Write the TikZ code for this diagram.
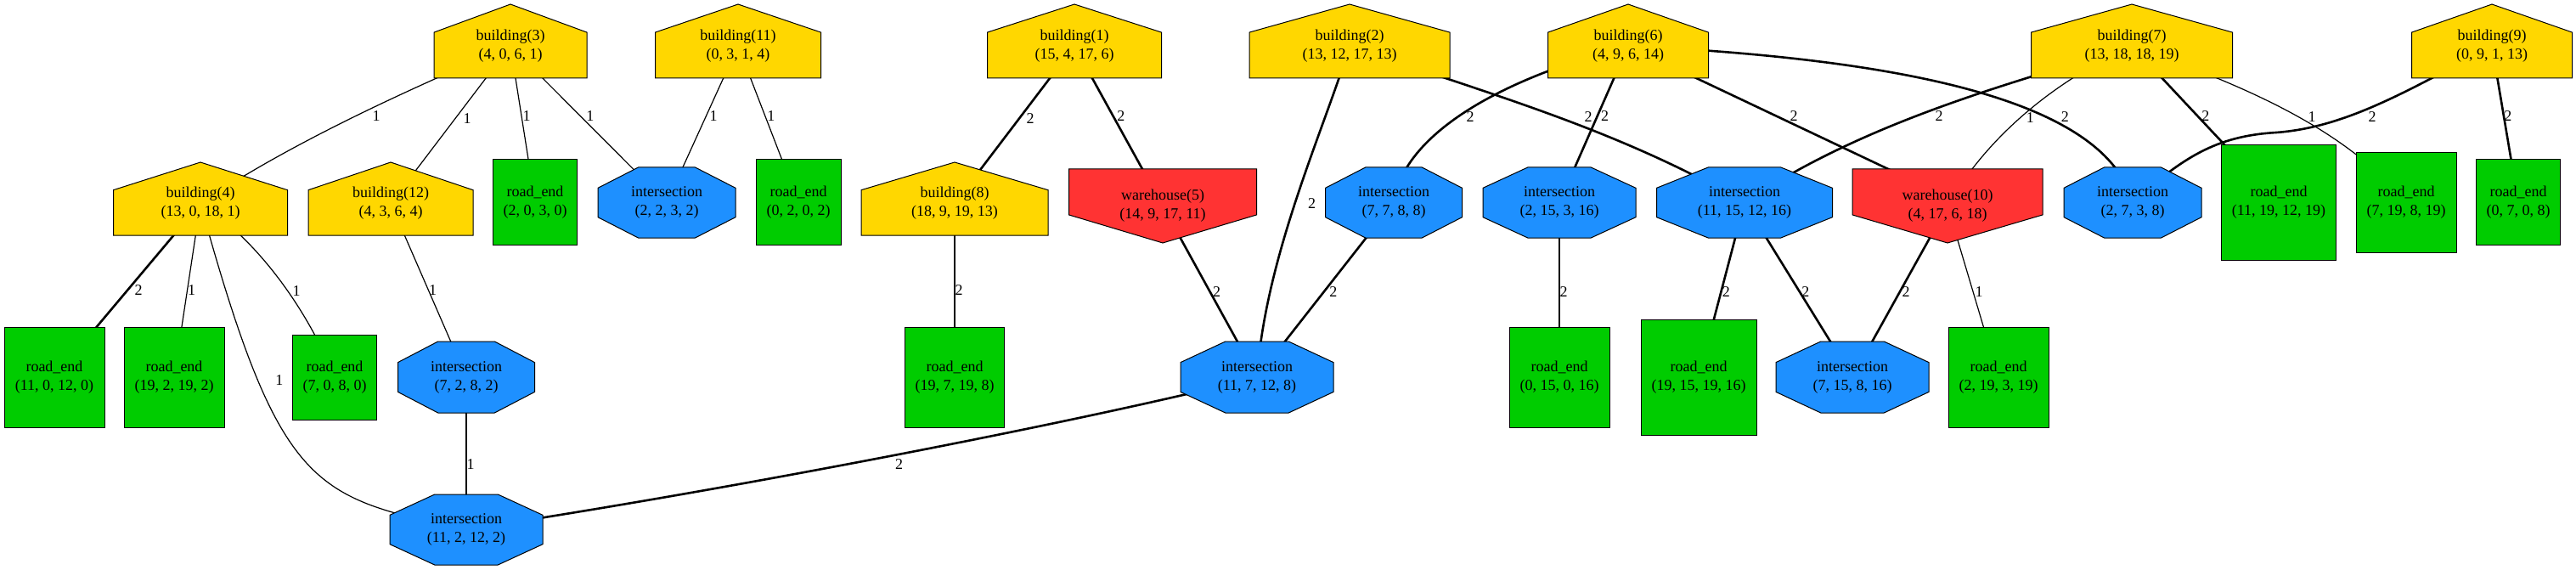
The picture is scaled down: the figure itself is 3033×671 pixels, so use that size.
\documentclass[tikz,border=0pt]{standalone}
\usepackage{fontspec}
\setmainfont{Liberation Serif}
\usetikzlibrary{backgrounds}

\definecolor{bgold}{RGB}{255,215,0}
\definecolor{jblue}{RGB}{30,144,255}
\definecolor{rgreen}{RGB}{0,204,0}
\definecolor{wred}{RGB}{255,51,51}

\pgfkeys{/pgf/shape lift/.initial=0pt}

\makeatletter
% house: flat bottom, pointed roof (outline may sit higher than the text)
\pgfdeclareshape{houseshape}{%
  \inheritsavedanchors[from=rectangle]%
  \inheritanchorborder[from=rectangle]%
  \inheritanchor[from=rectangle]{center}%
  \inheritanchor[from=rectangle]{north}%
  \inheritanchor[from=rectangle]{south}%
  \inheritanchor[from=rectangle]{east}%
  \inheritanchor[from=rectangle]{west}%
  \backgroundpath{%
    \southwest \pgf@xa=\pgf@x \pgf@ya=\pgf@y
    \northeast \pgf@xb=\pgf@x \pgf@yb=\pgf@y
    \pgfmathsetlength\pgf@yc{\pgfkeysvalueof{/pgf/shape lift}}%
    \advance\pgf@ya by\pgf@yc \advance\pgf@yb by\pgf@yc
    \pgf@xc=.5\pgf@xa \advance\pgf@xc by .5\pgf@xb
    \pgf@yc=.38\pgf@ya \advance\pgf@yc by .62\pgf@yb
    \edef\hs@xa{\the\pgf@xa}\edef\hs@xb{\the\pgf@xb}\edef\hs@xc{\the\pgf@xc}%
    \edef\hs@ya{\the\pgf@ya}\edef\hs@yb{\the\pgf@yb}\edef\hs@yc{\the\pgf@yc}%
    \pgfpathmoveto{\pgfqpoint{\hs@xa}{\hs@ya}}%
    \pgfpathlineto{\pgfqpoint{\hs@xb}{\hs@ya}}%
    \pgfpathlineto{\pgfqpoint{\hs@xb}{\hs@yc}}%
    \pgfpathlineto{\pgfqpoint{\hs@xc}{\hs@yb}}%
    \pgfpathlineto{\pgfqpoint{\hs@xa}{\hs@yc}}%
    \pgfpathclose
  }%
}
% warehouse: flat top, pointed bottom
\pgfdeclareshape{invhouseshape}{%
  \inheritsavedanchors[from=rectangle]%
  \inheritanchorborder[from=rectangle]%
  \inheritanchor[from=rectangle]{center}%
  \inheritanchor[from=rectangle]{north}%
  \inheritanchor[from=rectangle]{south}%
  \inheritanchor[from=rectangle]{east}%
  \inheritanchor[from=rectangle]{west}%
  \backgroundpath{%
    \southwest \pgf@xa=\pgf@x \pgf@ya=\pgf@y
    \northeast \pgf@xb=\pgf@x \pgf@yb=\pgf@y
    \pgf@xc=.5\pgf@xa \advance\pgf@xc by .5\pgf@xb
    \pgf@yc=.62\pgf@ya \advance\pgf@yc by .38\pgf@yb
    \edef\hs@xa{\the\pgf@xa}\edef\hs@xb{\the\pgf@xb}\edef\hs@xc{\the\pgf@xc}%
    \edef\hs@ya{\the\pgf@ya}\edef\hs@yb{\the\pgf@yb}\edef\hs@yc{\the\pgf@yc}%
    \pgfpathmoveto{\pgfqpoint{\hs@xa}{\hs@yb}}%
    \pgfpathlineto{\pgfqpoint{\hs@xb}{\hs@yb}}%
    \pgfpathlineto{\pgfqpoint{\hs@xb}{\hs@yc}}%
    \pgfpathlineto{\pgfqpoint{\hs@xc}{\hs@ya}}%
    \pgfpathlineto{\pgfqpoint{\hs@xa}{\hs@yc}}%
    \pgfpathclose
  }%
}
% stretched octagon
\pgfdeclareshape{octshape}{%
  \inheritsavedanchors[from=rectangle]%
  \inheritanchorborder[from=rectangle]%
  \inheritanchor[from=rectangle]{center}%
  \inheritanchor[from=rectangle]{north}%
  \inheritanchor[from=rectangle]{south}%
  \inheritanchor[from=rectangle]{east}%
  \inheritanchor[from=rectangle]{west}%
  \backgroundpath{%
    \southwest \pgf@xa=\pgf@x \pgf@ya=\pgf@y
    \northeast \pgf@xb=\pgf@x \pgf@yb=\pgf@y
    \edef\oc@xa{\the\pgf@xa}\edef\oc@xb{\the\pgf@xb}%
    \edef\oc@ya{\the\pgf@ya}\edef\oc@yb{\the\pgf@yb}%
    \pgf@x=.707\pgf@xa \advance\pgf@x by .293\pgf@xb \edef\oc@xl{\the\pgf@x}%
    \pgf@x=.293\pgf@xa \advance\pgf@x by .707\pgf@xb \edef\oc@xr{\the\pgf@x}%
    \pgf@y=.707\pgf@ya \advance\pgf@y by .293\pgf@yb \edef\oc@yl{\the\pgf@y}%
    \pgf@y=.293\pgf@ya \advance\pgf@y by .707\pgf@yb \edef\oc@yu{\the\pgf@y}%
    \pgfpathmoveto{\pgfqpoint{\oc@xl}{\oc@ya}}%
    \pgfpathlineto{\pgfqpoint{\oc@xr}{\oc@ya}}%
    \pgfpathlineto{\pgfqpoint{\oc@xb}{\oc@yl}}%
    \pgfpathlineto{\pgfqpoint{\oc@xb}{\oc@yu}}%
    \pgfpathlineto{\pgfqpoint{\oc@xr}{\oc@yb}}%
    \pgfpathlineto{\pgfqpoint{\oc@xl}{\oc@yb}}%
    \pgfpathlineto{\pgfqpoint{\oc@xa}{\oc@yu}}%
    \pgfpathlineto{\pgfqpoint{\oc@xa}{\oc@yl}}%
    \pgfpathclose
  }%
}
\makeatother

\tikzset{
  mapnode/.style={draw=black, line width=1pt, inner sep=0pt, outer sep=0pt,
    align=center, font=\fontsize{18}{22}\selectfont},
  bldg/.style={mapnode, shape=houseshape, fill=bgold, minimum height=87pt, shape lift=5.5pt},
  whouse/.style={mapnode, shape=invhouseshape, fill=wred, minimum height=87pt},
  junction/.style={mapnode, shape=octshape, fill=jblue, minimum height=83pt},
  roadend/.style={mapnode, shape=rectangle, fill=rgreen},
  wt1/.style={line width=1.2pt},
  wt2/.style={line width=2.6pt},
  wlabel/.style={font=\fontsize{18}{22}\selectfont, inner sep=0pt}
}

\begin{document}
\begin{tikzpicture}[x=1pt, y=-1pt]
  \useasboundingbox (0,0) rectangle (3033,671);

  % top row
  \node[bldg, minimum width=180pt] (b3) at (601,54) {building(3)\\(4, 0, 6, 1)};
  \node[bldg, minimum width=195pt] (b11) at (869,54) {building(11)\\(0, 3, 1, 4)};
  \node[bldg, minimum width=205pt] (b1) at (1265,54) {building(1)\\(15, 4, 17, 6)};
  \node[bldg, minimum width=236pt] (b2) at (1589,54) {building(2)\\(13, 12, 17, 13)};
  \node[bldg, minimum width=189pt] (b6) at (1917,54) {building(6)\\(4, 9, 6, 14)};
  \node[bldg, minimum width=237pt] (b7) at (2510,54) {building(7)\\(13, 18, 18, 19)};
  \node[bldg, minimum width=189pt] (b9) at (2934,54) {building(9)\\(0, 9, 1, 13)};

  % second row
  \node[bldg, minimum width=205pt, minimum height=86pt] (b4) at (236,239.5) {building(4)\\(13, 0, 18, 1)};
  \node[bldg, minimum width=194pt, minimum height=86pt] (b12) at (460,239.5) {building(12)\\(4, 3, 6, 4)};
  \node[roadend, minimum width=99pt, minimum height=100pt] (r2030) at (630,238) {road\_end\\(2, 0, 3, 0)};
  \node[junction, minimum width=162pt] (j2232) at (785,238.5) {intersection\\(2, 2, 3, 2)};
  \node[roadend, minimum width=100pt, minimum height=100pt] (r0202) at (940,238) {road\_end\\(0, 2, 0, 2)};
  \node[bldg, minimum width=220pt, minimum height=86pt] (b8) at (1124,239.5) {building(8)\\(18, 9, 19, 13)};
  \node[whouse, minimum width=221pt] (w5) at (1369,242.5) {warehouse(5)\\(14, 9, 17, 11)};
  \node[junction, minimum width=161pt] (j7788) at (1641,238.5) {intersection\\(7, 7, 8, 8)};
  \node[junction, minimum width=180pt] (j2153) at (1836,238.5) {intersection\\(2, 15, 3, 16)};
  \node[junction, minimum width=207pt] (j1115) at (2054,238.5) {intersection\\(11, 15, 12, 16)};
  \node[whouse, minimum width=224pt] (w10) at (2293,242.5) {warehouse(10)\\(4, 17, 6, 18)};
  \node[junction, minimum width=162pt] (j2738) at (2511,238.5) {intersection\\(2, 7, 3, 8)};
  \node[roadend, minimum width=135pt, minimum height=135pt] (r1119) at (2683,238.5) {road\_end\\(11, 19, 12, 19)};
  \node[roadend, minimum width=118pt, minimum height=117pt] (r7198) at (2833,238.5) {road\_end\\(7, 19, 8, 19)};
  \node[roadend, minimum width=99pt, minimum height=100pt] (r0708) at (2965,238) {road\_end\\(0, 7, 0, 8)};

  % third row
  \node[roadend, minimum width=118pt, minimum height=118pt] (r11012) at (64,444) {road\_end\\(11, 0, 12, 0)};
  \node[roadend, minimum width=118pt, minimum height=118pt] (r19219) at (205,444) {road\_end\\(19, 2, 19, 2)};
  \node[roadend, minimum width=99pt, minimum height=100pt] (r7080) at (394,444) {road\_end\\(7, 0, 8, 0)};
  \node[junction, minimum width=161pt, minimum height=84pt] (j7282) at (549,444) {intersection\\(7, 2, 8, 2)};
  \node[roadend, minimum width=117pt, minimum height=118pt] (r19719) at (1124,444) {road\_end\\(19, 7, 19, 8)};
  \node[junction, minimum width=180pt, minimum height=84pt] (j11712) at (1480,444) {intersection\\(11, 7, 12, 8)};
  \node[roadend, minimum width=118pt, minimum height=118pt] (r0150) at (1836,444) {road\_end\\(0, 15, 0, 16)};
  \node[roadend, minimum width=136pt, minimum height=136pt] (r1915) at (2000,444) {road\_end\\(19, 15, 19, 16)};
  \node[junction, minimum width=180pt, minimum height=84pt] (j7158) at (2181,444) {intersection\\(7, 15, 8, 16)};
  \node[roadend, minimum width=118pt, minimum height=118pt] (r2193) at (2353,444) {road\_end\\(2, 19, 3, 19)};

  % bottom
  \node[junction, minimum width=180pt] (j11212) at (549,623.5) {intersection\\(11, 2, 12, 2)};

  % roads
  \begin{scope}[on background layer]
    \draw[wt1] (b3.center) .. controls (470,110) and (340,170) .. (b4.center) node[wlabel, pos=.45, xshift=16pt, yshift=-4pt] {1};
    \draw[wt1] (b3.center) -- (b12.center) node[wlabel, pos=.46, xshift=14pt] {1};
    \draw[wt1] (b3.center) -- (r2030.center) node[wlabel, pos=.45, xshift=6pt] {1};
    \draw[wt1] (b3.center) -- (j2232.center) node[wlabel, pos=.45, xshift=11pt] {1};
    \draw[wt1] (b11.center) -- (j2232.center) node[wlabel, pos=.45, xshift=9pt] {1};
    \draw[wt1] (b11.center) -- (r0202.center) node[wlabel, pos=.45, xshift=7pt] {1};
    \draw[wt2] (b1.center) -- (b8.center) node[wlabel, pos=.46, xshift=13pt] {2};
    \draw[wt2] (b1.center) -- (w5.center) node[wlabel, pos=.44, xshift=9pt] {2};
    \draw[wt2] (b2.center) .. controls (1560,150) and (1490,300) .. (j11712.center) node[wlabel, pos=.52, xshift=20pt] {2};
    \draw[wt2] (b2.center) .. controls (1750,110) and (1900,150) .. (j1115.center) node[wlabel, pos=.6, yshift=14pt] {2};
    \draw[wt2] (b6.center) .. controls (1740,100) and (1650,170) .. (j7788.center) node[wlabel, pos=.5, xshift=15pt] {2};
    \draw[wt2] (b6.center) -- (j2153.center) node[wlabel, pos=.45, xshift=9pt] {2};
    \draw[wt2] (b6.center) -- ([xshift=22pt]w10.center) node[wlabel, pos=.44, xshift=20pt] {2};
    \draw[wt2] (b6.center) .. controls (2250,70) and (2480,120) .. (j2738.center) node[wlabel, pos=.65, xshift=22pt] {2};
    \draw[wt2] (b7.center) .. controls (2380,95) and (2200,140) .. (j1115.center) node[wlabel, pos=.5, xshift=-5pt, yshift=-12pt] {2};
    \draw[wt1] (b7.center) .. controls (2420,95) and (2340,160) .. (w10.center) node[wlabel, pos=.5, xshift=5pt, yshift=-6pt] {1};
    \draw[wt2] (b7.center) -- (r1119.center) node[wlabel, pos=.45, xshift=9pt] {2};
    \draw[wt1] (b7.center) .. controls (2640,100) and (2760,150) .. (r7198.center) node[wlabel, pos=.6, xshift=-3pt, yshift=11pt] {1};
    \draw[wt2] (b9.center) .. controls (2830,110) and (2760,150) .. (2680,156) node[wlabel, pos=.5, xshift=-5pt, yshift=-14pt] {2}
      .. controls (2610,160) and (2570,185) .. (j2738.center);
    \draw[wt2] (b9.center) -- (r0708.center) node[wlabel, pos=.45, xshift=5pt] {2};

    \draw[wt2] (b4.center) -- (r11012.center) node[wlabel, pos=.5, xshift=13pt] {2};
    \draw[wt1] (b4.center) -- (r19219.center) node[wlabel, pos=.5, xshift=5pt] {1};
    \draw[wt1] (b4.center) .. controls (300,280) and (360,360) .. (r7080.center) node[wlabel, pos=.58, xshift=10pt] {1};
    \draw[wt1] (b4.center) .. controls (330,580) and (370,585) .. (j11212.center) node[wlabel, pos=.26, xshift=27pt, yshift=-4pt] {1};
    \draw[wt1] (b12.center) -- (j7282.center) node[wlabel, pos=.5, xshift=5pt] {1};
    \draw[wt1] (j7282.center) -- (j11212.center) node[wlabel, pos=.57, xshift=5pt] {1};
    \draw[wt2] (b8.center) -- (r19719.center) node[wlabel, pos=.5, xshift=5pt] {2};
    \draw[wt2] (w5.center) -- (j11712.center) node[wlabel, pos=.5, xshift=8pt] {2};
    \draw[wt2] (j11712.center) .. controls (1300,490) and (900,570) .. (j11212.center) node[wlabel, pos=.52, yshift=-12pt] {2};
    \draw[wt2] (j7788.center) -- (j11712.center) node[wlabel, pos=.51, xshift=11pt] {2};
    \draw[wt2] (j2153.center) -- (r0150.center) node[wlabel, pos=.51, xshift=5pt] {2};
    \draw[wt2] (j1115.center) -- (r1915.center) node[wlabel, pos=.51, xshift=6pt] {2};
    \draw[wt2] (j1115.center) -- (j7158.center) node[wlabel, pos=.51, xshift=7pt] {2};
    \draw[wt2] (w10.center) -- (j7158.center) node[wlabel, pos=.5, xshift=7pt] {2};
    \draw[wt1] (w10.center) -- (r2193.center) node[wlabel, pos=.5, xshift=7pt] {1};
  \end{scope}
\end{tikzpicture}
\end{document}
